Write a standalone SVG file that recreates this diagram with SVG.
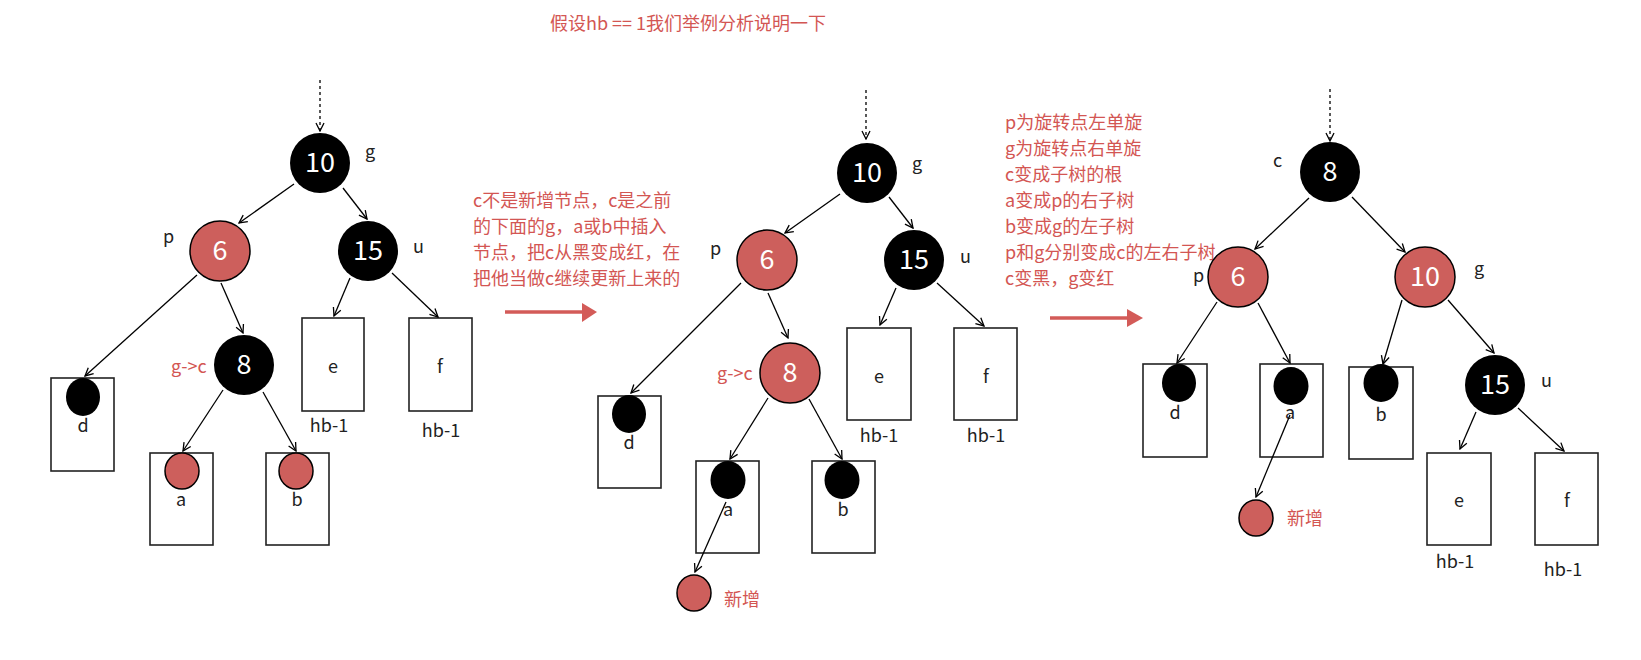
<svg xmlns="http://www.w3.org/2000/svg" width="1641" height="660" viewBox="0 0 1641 660">
<defs>
<marker id="ah" viewBox="0 0 10 10" refX="9" refY="5" markerWidth="10" markerHeight="10" markerUnits="userSpaceOnUse" orient="auto"><path d="M1,1 L9,5 L1,9" fill="none" stroke="#000" stroke-width="1.3"/></marker>
<style>
text{font-family:"Noto Sans CJK SC","Noto Sans",sans-serif}
.nb{fill:#000}
.nr{fill:#cd5f5c;stroke:#000;stroke-width:1.5}
.num{fill:#fff;font-size:27px;text-anchor:middle}
.lbl{fill:#222;font-size:18px}
.ctr{text-anchor:middle}
.red{fill:#d35653;font-size:18px}
.box{fill:#fff;stroke:#222;stroke-width:1.6}
.e{stroke:#000;stroke-width:1.3;fill:none;marker-end:url(#ah)}
.d{stroke:#000;stroke-width:1.3;fill:none;stroke-dasharray:3 3;marker-end:url(#ah)}
.ra{stroke:#d35b58;stroke-width:3.5}
.rh{fill:#d35b58}
</style>
</defs>
<rect width="1641" height="660" fill="#fff"/>

<text class="red" x="550" y="30">假设hb == 1我们举例分析说明一下</text>

<g id="note1">
<text class="red" x="473" y="207">c不是新增节点，c是之前</text>
<text class="red" x="473" y="233">的下面的g，a或b中插入</text>
<text class="red" x="473" y="259">节点，把c从黑变成红，在</text>
<text class="red" x="473" y="285">把他当做c继续更新上来的</text>
</g>
<g id="note2">
<text class="red" x="1005" y="129">p为旋转点左单旋</text>
<text class="red" x="1005" y="155">g为旋转点右单旋</text>
<text class="red" x="1005" y="181">c变成子树的根</text>
<text class="red" x="1005" y="207">a变成p的右子树</text>
<text class="red" x="1005" y="233">b变成g的左子树</text>
<text class="red" x="1005" y="259">p和g分别变成c的左右子树</text>
<text class="red" x="1005" y="285">c变黑，g变红</text>
</g>

<g id="bigarrows">
<line class="ra" x1="505" y1="312" x2="583" y2="312"/><polygon class="rh" points="582,303 597,312 582,322"/>
<line class="ra" x1="1050" y1="318" x2="1128" y2="318"/><polygon class="rh" points="1127,309 1143,318 1127,327"/>
</g>

<!-- LEFT TREE boxes -->
<g id="L_d"><rect class="box" x="51" y="378" width="63" height="93"/><ellipse class="nb" cx="83" cy="397" rx="17" ry="19"/><text class="lbl ctr" x="83" y="432">d</text></g>
<g id="L_a"><rect class="box" x="150" y="453" width="63" height="92"/><ellipse class="nr" cx="182" cy="471" rx="17" ry="18"/><text class="lbl ctr" x="181" y="506">a</text></g>
<g id="L_b"><rect class="box" x="266" y="453" width="63" height="92"/><ellipse class="nr" cx="296" cy="471" rx="17" ry="18"/><text class="lbl ctr" x="297" y="506">b</text></g>
<g id="L_e"><rect class="box" x="302" y="318" width="62" height="93"/><text class="lbl ctr" x="333" y="373">e</text><text class="lbl ctr" x="329" y="432">hb-1</text></g>
<g id="L_f"><rect class="box" x="409" y="318" width="63" height="93"/><text class="lbl ctr" x="440" y="373">f</text><text class="lbl ctr" x="441" y="437">hb-1</text></g>
<g id="L_10"><circle class="nb" cx="320" cy="163" r="30"/><text class="num" x="320" cy="163" y="172">10</text><text class="lbl" x="365" y="158">g</text></g>
<g id="L_6"><circle class="nr" cx="220" cy="251" r="30"/><text class="num" x="220" y="260">6</text><text class="lbl" x="163" y="243">p</text></g>
<g id="L_15"><circle class="nb" cx="368" cy="251" r="30"/><text class="num" x="368" y="260">15</text><text class="lbl" x="413" y="253">u</text></g>
<g id="L_8"><circle class="nb" cx="244" cy="365" r="30"/><text class="num" x="244" y="374">8</text><text class="red" x="171" y="373">g-&gt;c</text></g>

<!-- MIDDLE TREE -->
<g id="M_d"><rect class="box" x="598" y="396" width="63" height="92"/><ellipse class="nb" cx="629" cy="414" rx="17" ry="19"/><text class="lbl ctr" x="629" y="449">d</text></g>
<g id="M_a"><rect class="box" x="696" y="461" width="63" height="92"/><ellipse class="nb" cx="728" cy="480" rx="17.5" ry="19"/><text class="lbl ctr" x="728" y="516">a</text></g>
<g id="M_b"><rect class="box" x="812" y="461" width="63" height="92"/><ellipse class="nb" cx="842" cy="480" rx="17.5" ry="19"/><text class="lbl ctr" x="843" y="516">b</text></g>
<g id="M_e"><rect class="box" x="847" y="328" width="64" height="92"/><text class="lbl ctr" x="879" y="383">e</text><text class="lbl ctr" x="879" y="442">hb-1</text></g>
<g id="M_f"><rect class="box" x="954" y="328" width="63" height="92"/><text class="lbl ctr" x="986" y="383">f</text><text class="lbl ctr" x="986" y="442">hb-1</text></g>
<g id="M_10"><circle class="nb" cx="867" cy="173" r="30"/><text class="num" x="867" y="182">10</text><text class="lbl" x="912" y="170">g</text></g>
<g id="M_6"><circle class="nr" cx="767" cy="260" r="30"/><text class="num" x="767" y="269">6</text><text class="lbl" x="710" y="255">p</text></g>
<g id="M_15"><circle class="nb" cx="914" cy="260" r="30"/><text class="num" x="914" y="269">15</text><text class="lbl" x="960" y="263">u</text></g>
<g id="M_8"><circle class="nr" cx="790" cy="373" r="30"/><text class="num" x="790" y="382">8</text><text class="red" x="717" y="380">g-&gt;c</text></g>
<g id="M_new"><ellipse class="nr" cx="694" cy="593" rx="17" ry="18"/><text class="red" x="724" y="606">新增</text></g>

<!-- RIGHT TREE -->
<g id="R_d"><rect class="box" x="1143" y="364" width="64" height="93"/><ellipse class="nb" cx="1179" cy="383" rx="17" ry="19"/><text class="lbl ctr" x="1175" y="419">d</text></g>
<g id="R_a"><rect class="box" x="1260" y="364" width="63" height="93"/><ellipse class="nb" cx="1291" cy="386" rx="17.5" ry="19"/><text class="lbl ctr" x="1290" y="419">a</text></g>
<g id="R_b"><rect class="box" x="1349" y="367" width="64" height="92"/><ellipse class="nb" cx="1381" cy="383" rx="17.5" ry="19"/><text class="lbl ctr" x="1381" y="421">b</text></g>
<g id="R_e"><rect class="box" x="1427" y="453" width="64" height="92"/><text class="lbl ctr" x="1459" y="507">e</text><text class="lbl ctr" x="1455" y="568">hb-1</text></g>
<g id="R_f"><rect class="box" x="1535" y="453" width="63" height="92"/><text class="lbl ctr" x="1567" y="507">f</text><text class="lbl ctr" x="1563" y="576">hb-1</text></g>
<g id="R_8"><circle class="nb" cx="1330" cy="172" r="30"/><text class="num" x="1330" y="181">8</text><text class="lbl" x="1273" y="167">c</text></g>
<g id="R_6"><circle class="nr" cx="1238" cy="277" r="30"/><text class="num" x="1238" y="286">6</text><text class="lbl" x="1193" y="282">p</text></g>
<g id="R_10"><circle class="nr" cx="1425" cy="277" r="30"/><text class="num" x="1425" y="286">10</text><text class="lbl" x="1474" y="275">g</text></g>
<g id="R_15"><circle class="nb" cx="1495" cy="385" r="30"/><text class="num" x="1495" y="394">15</text><text class="lbl" x="1541" y="387">u</text></g>
<g id="R_new"><ellipse class="nr" cx="1256" cy="518" rx="17" ry="18"/><text class="red" x="1287" y="525">新增</text></g>

<g id="connectors">
<line class="d" x1="320" y1="80" x2="320" y2="131"/>
<line class="e" x1="294" y1="184" x2="239" y2="223"/>
<line class="e" x1="343" y1="188" x2="367" y2="219"/>
<line class="e" x1="197" y1="275" x2="85" y2="376"/>
<line class="e" x1="221" y1="283" x2="243" y2="333"/>
<line class="e" x1="350" y1="278" x2="334" y2="316"/>
<line class="e" x1="392" y1="273" x2="438" y2="317"/>
<line class="e" x1="223" y1="390" x2="183" y2="451"/>
<line class="e" x1="263" y1="392" x2="296" y2="451"/>

<line class="d" x1="866" y1="90" x2="866" y2="139"/>
<line class="e" x1="840" y1="194" x2="785" y2="233"/>
<line class="e" x1="889" y1="197" x2="913" y2="228"/>
<line class="e" x1="741" y1="283" x2="631" y2="393"/>
<line class="e" x1="768" y1="293" x2="788" y2="338"/>
<line class="e" x1="896" y1="288" x2="880" y2="325"/>
<line class="e" x1="937" y1="283" x2="984" y2="326"/>
<line class="e" x1="768" y1="398" x2="730" y2="459"/>
<line class="e" x1="809" y1="399" x2="842" y2="459"/>
<line class="e" x1="726" y1="502" x2="695" y2="572"/>

<line class="d" x1="1330" y1="89" x2="1330" y2="141"/>
<line class="e" x1="1309" y1="198" x2="1255" y2="249"/>
<line class="e" x1="1352" y1="197" x2="1405" y2="252"/>
<line class="e" x1="1217" y1="302" x2="1177" y2="363"/>
<line class="e" x1="1258" y1="303" x2="1290" y2="363"/>
<line class="e" x1="1402" y1="300" x2="1383" y2="364"/>
<line class="e" x1="1448" y1="300" x2="1494" y2="353"/>
<line class="e" x1="1476" y1="412" x2="1460" y2="449"/>
<line class="e" x1="1518" y1="408" x2="1564" y2="451"/>
<line class="e" x1="1290" y1="415" x2="1256" y2="497"/>
</g>
</svg>
